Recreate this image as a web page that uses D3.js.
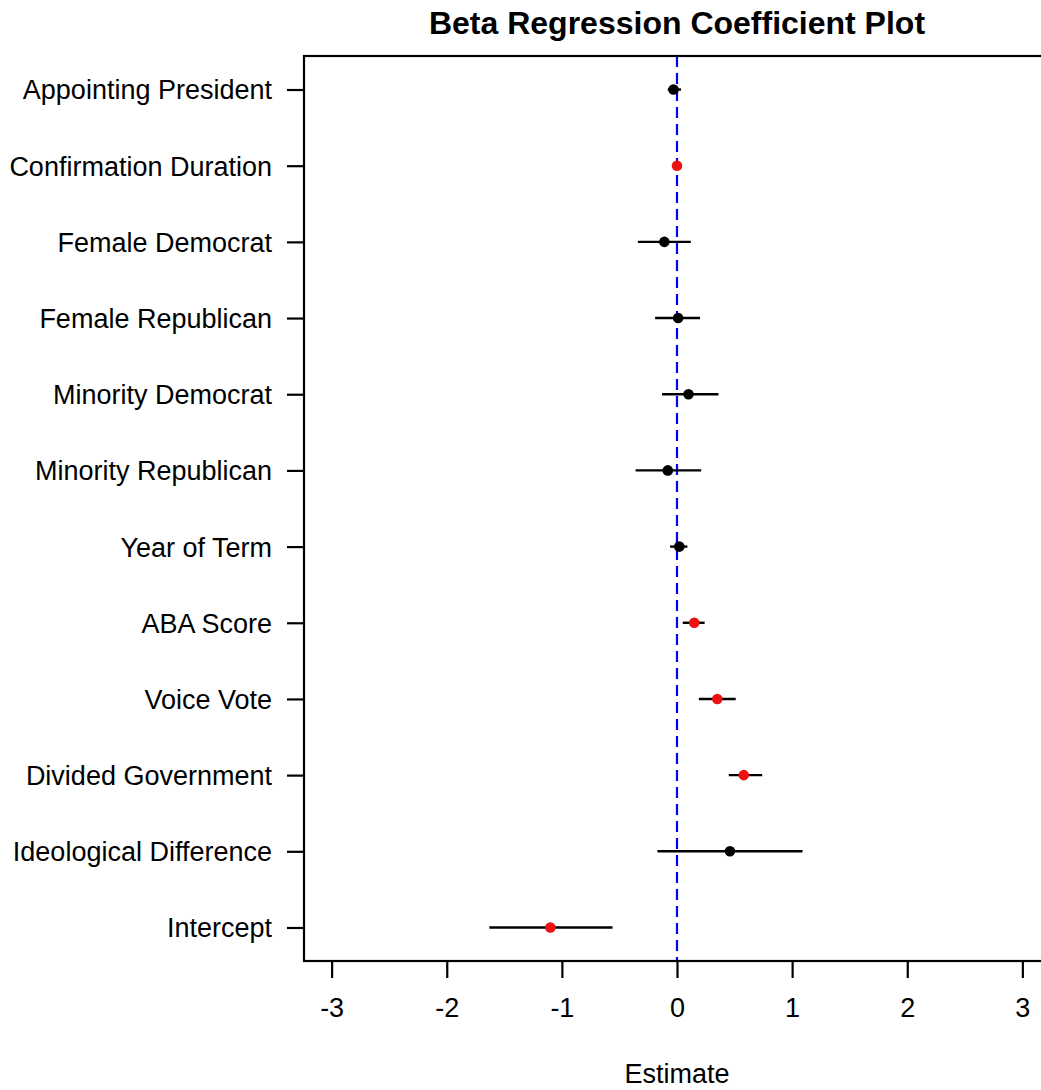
<html>
  <head>
    <meta charset="utf-8">
    <title>Beta Regression Coefficient Plot</title>
    <style>
      body { margin: 0; background: #fff; }
      text { font-family: "Liberation Sans", Arial, sans-serif; fill: #000; }
    </style>
    <script src="https://d3js.org/d3.v7.min.js"></script>
  </head>
  <body>
    <svg id="chart" width="1041" height="1090"></svg>
    <script>
      // rows from top to bottom
      var labels = ["Appointing President", "Confirmation Duration", "Female Democrat",
                    "Female Republican", "Minority Democrat", "Minority Republican",
                    "Year of Term", "ABA Score", "Voice Vote", "Divided Government",
                    "Ideological Difference", "Intercept"]
      var estimates = [-0.03, 0.00, -0.11, 0.01, 0.10, -0.08, 0.02, 0.15, 0.35, 0.58, 0.46, -1.10]
      var lower     = [-0.08, -0.01, -0.34, -0.19, -0.13, -0.36, -0.06, 0.05, 0.19, 0.45, -0.17, -1.63]
      var upper     = [0.035, 0.01, 0.12, 0.20, 0.36, 0.21, 0.09, 0.24, 0.51, 0.74, 1.09, -0.56]
      var significant = [false, true, false, false, false, false, false, true, true, true, false, true]
      var xTicks = [-3, -2, -1, 0, 1, 2, 3]

      var svg = d3.select("#chart")
      var pLeft = 304, pRight = 1050, pTop = 56, pBottom = 961

      var x = d3.scaleLinear().domain([-3.24, 3.24]).range([pLeft, pRight])
      var y = d3.scaleLinear().domain([0.56, 12.44]).range([pTop, pBottom])

      var rows = labels.map(function(l, i) {
        return {label: l, est: estimates[i], lo: lower[i], hi: upper[i], sig: significant[i], pos: i + 1}
      })

      // title
      svg.append("text")
         .attr("x", (pLeft + pRight) / 2)
         .attr("y", 34)
         .attr("text-anchor", "middle")
         .style("font-size", "32px")
         .style("font-weight", "bold")
         .text("Beta Regression Coefficient Plot")

      // zero reference
      svg.append("line")
         .attr("x1", x(0)).attr("x2", x(0))
         .attr("y1", pTop).attr("y2", pBottom)
         .attr("stroke", "#0000ff")
         .attr("stroke-width", 2.2)
         .attr("stroke-dasharray", "11,6")

      // confidence intervals
      svg.selectAll("line.ci")
         .data(rows)
         .join("line")
         .attr("class", "ci")
         .attr("x1", d => x(d.lo)).attr("x2", d => x(d.hi))
         .attr("y1", d => y(d.pos)).attr("y2", d => y(d.pos))
         .attr("stroke", "#000")
         .attr("stroke-width", 2.4)

      // estimates
      svg.selectAll("circle.pt")
         .data(rows)
         .join("circle")
         .attr("class", "pt")
         .attr("cx", d => x(d.est))
         .attr("cy", d => y(d.pos))
         .attr("r", 5.3)
         .attr("fill", d => d.sig ? "#ee1111" : "#000")

      // plot box
      svg.append("rect")
         .attr("x", pLeft).attr("y", pTop)
         .attr("width", pRight - pLeft).attr("height", pBottom - pTop)
         .attr("fill", "none")
         .attr("stroke", "#000")
         .attr("stroke-width", 2.2)

      // y axis
      var yAxis = d3.axisLeft(y)
                    .tickValues(rows.map(d => d.pos))
                    .tickFormat((d, i) => labels[i])
                    .tickSize(17)
                    .tickPadding(15)
      var gy = svg.append("g")
                  .attr("transform", "translate(" + pLeft + ",0)")
                  .call(yAxis)
      gy.select(".domain").remove()
      gy.selectAll("line").attr("stroke-width", 2.2)
      gy.selectAll("text")
        .style("font-size", "27px")
        .attr("dy", "0.35em")
        .style("font-family", "'Liberation Sans', Arial, sans-serif")

      // x axis
      var xAxis = d3.axisBottom(x)
                    .tickValues(xTicks)
                    .tickFormat(d3.format("d"))
                    .tickSize(17)
                    .tickPadding(20)
      var gx = svg.append("g")
                  .attr("transform", "translate(0," + pBottom + ")")
                  .call(xAxis)
      gx.select(".domain").remove()
      gx.selectAll("line").attr("stroke-width", 2.2)
      gx.selectAll("text")
        .style("font-size", "27px")
        .style("font-family", "'Liberation Sans', Arial, sans-serif")
        .text(d => d < 0 ? "-" + Math.abs(d) : d)

      // x label
      svg.append("text")
         .attr("x", x(0))
         .attr("y", 1083)
         .attr("text-anchor", "middle")
         .style("font-size", "27px")
         .text("Estimate")
    </script>
  </body>
</html>
